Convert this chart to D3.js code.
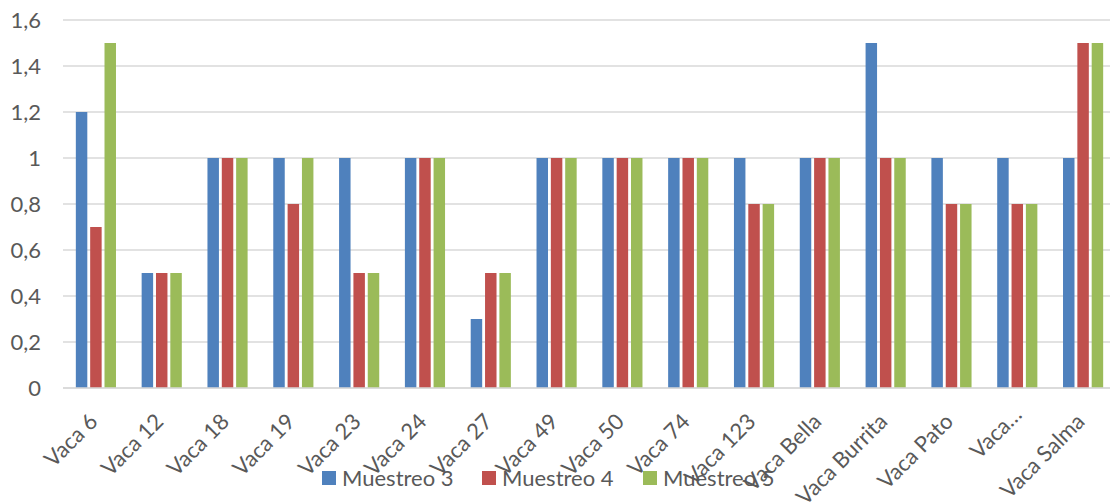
<!DOCTYPE html>
<html>
<head>
<meta charset="utf-8">
<script src="https://cdn.jsdelivr.net/npm/d3@7"></script>
<style>
  html, body { margin: 0; padding: 0; background: #fff; }
  svg { display: block; }
  text { font-family: Lato, "Open Sans", sans-serif; fill: #595959; }
</style>
</head>
<body>
<svg id="chart" width="1110" height="504"></svg>
<script>
// Categories (cows) and the three sampling series
const categories = ["Vaca 6", "Vaca 12", "Vaca 18", "Vaca 19", "Vaca 23", "Vaca 24", "Vaca 27",
  "Vaca 49", "Vaca 50", "Vaca 74", "Vaca 123", "Vaca Bella", "Vaca Burrita", "Vaca Pato",
  "Vaca…", "Vaca Salma"];
const seriesNames = ["Muestreo 3", "Muestreo 4", "Muestreo 5"];
const muestreo3 = [1.2, 0.5, 1, 1, 1, 1, 0.3, 1, 1, 1, 1, 1, 1.5, 1, 1, 1];
const muestreo4 = [0.7, 0.5, 1, 0.8, 0.5, 1, 0.5, 1, 1, 1, 0.8, 1, 1, 0.8, 0.8, 1.5];
const muestreo5 = [1.5, 0.5, 1, 1, 0.5, 1, 0.5, 1, 1, 1, 0.8, 1, 1, 0.8, 0.8, 1.5];
const yTicks = [0, 0.2, 0.4, 0.6, 0.8, 1, 1.2, 1.4, 1.6];
const colors = ["#4F81BD", "#C0504D", "#9BBB59"];

const seriesValues = [muestreo3, muestreo4, muestreo5];
const svg = d3.select("#chart");

const plot = { left: 63, right: 1116, top: 20, bottom: 388 };

const x = d3.scaleBand().domain(categories).range([plot.left, plot.right]).paddingInner(0.39).paddingOuter(0.195);
const xs = d3.scaleBand().domain(seriesNames).range([0, x.bandwidth()]).paddingInner(0.2);
const y = d3.scaleLinear().domain([0, 1.6]).range([plot.bottom, plot.top]);

const fmt = v => String(v).replace(".", ",");

// Horizontal gridlines
svg.append("g").selectAll("line").data(yTicks).join("line")
  .attr("x1", plot.left).attr("x2", plot.right)
  .attr("y1", d => y(d)).attr("y2", d => y(d))
  .attr("stroke", "#d9d9d9").attr("stroke-width", 1.5);

// Y axis labels
const yAxis = d3.axisLeft(y).tickValues(yTicks).tickFormat(fmt).tickSize(0).tickPadding(0);
const gy = svg.append("g").attr("transform", "translate(41,0)").call(yAxis);
gy.select(".domain").remove();
gy.selectAll("text").attr("font-size", 22).attr("fill", "#595959")
  .style("font-family", "Lato, 'Open Sans', sans-serif").attr("dy", "0.35em");

// Bars
const groups = svg.append("g").selectAll("g").data(categories).join("g")
  .attr("transform", d => `translate(${x(d)},0)`);
groups.selectAll("rect")
  .data((c, i) => seriesNames.map((s, k) => ({ s, k, v: seriesValues[k][i] })))
  .join("rect")
  .attr("x", d => xs(d.s))
  .attr("width", xs.bandwidth())
  .attr("y", d => y(d.v))
  .attr("height", d => y(0) - y(d.v))
  .attr("fill", d => colors[d.k]);

// Baseline
svg.append("line").attr("x1", plot.left).attr("x2", plot.right)
  .attr("y1", y(0)).attr("y2", y(0)).attr("stroke", "#d9d9d9").attr("stroke-width", 1.5);

// X axis labels, rotated
const xAxis = d3.axisBottom(x).tickSize(0).tickPadding(0);
const gx = svg.append("g").attr("transform", `translate(0,${plot.bottom})`).call(xAxis);
gx.select(".domain").remove();
gx.selectAll("text")
  .attr("font-size", 22).attr("fill", "#595959")
  .style("font-family", "Lato, 'Open Sans', sans-serif")
  .attr("text-anchor", "end")
  .attr("dy", null).attr("y", 0)
  .attr("transform", d => `translate(${d === "Vaca…" ? 6 : 3},${d === "Vaca…" ? 28 : 35}) rotate(-45)`);

// Legend
const legendX = [322, 482, 643];
const legend = svg.append("g").selectAll("g").data(seriesNames).join("g")
  .attr("transform", (d, i) => `translate(${legendX[i]},471)`);
legend.append("rect").attr("width", 14).attr("height", 14).attr("fill", (d, i) => colors[i]);
legend.append("text").attr("x", 20).attr("y", 7).attr("dy", "0.35em")
  .attr("font-size", 22).text(d => d);
</script>
</body>
</html>
